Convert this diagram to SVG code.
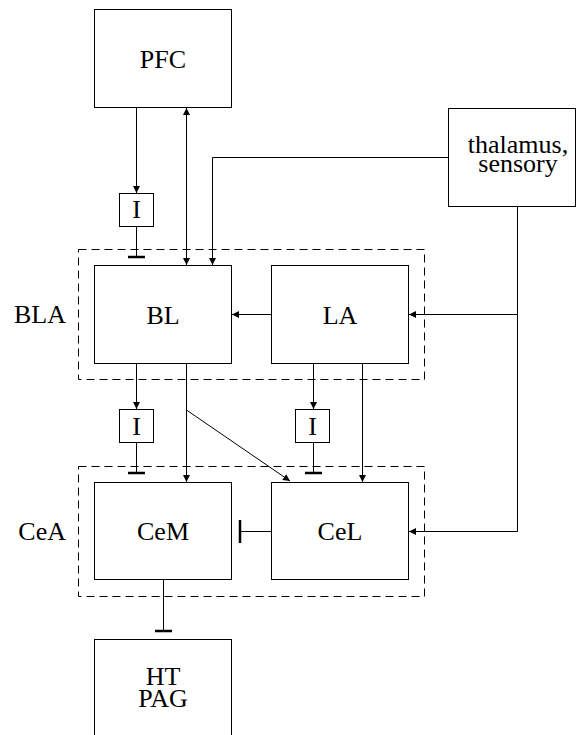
<svg xmlns="http://www.w3.org/2000/svg" width="576" height="735" viewBox="0 0 576 735">
<style>
  .box { fill: #fff; stroke: #000; stroke-width: 1; }
  .grp { fill: none; stroke: #000; stroke-width: 1; stroke-dasharray: 8,5; }
  .lbl { font-family: "Liberation Serif", "Times New Roman", serif; font-size: 26px; fill: #000; text-anchor: middle; }
  .side { font-family: "Liberation Serif", "Times New Roman", serif; font-size: 26px; fill: #000; text-anchor: end; }
  .c { fill: none; stroke: #000; stroke-width: 1; }
  .arr { marker-end: url(#ah); }
  .tbar { stroke: #000; stroke-width: 2.5; fill: none; }
</style>
<defs>
  <marker id="ah" viewBox="0 0 10 10" refX="10" refY="5" markerWidth="8" markerHeight="7" markerUnits="userSpaceOnUse" orient="auto-start-reverse">
    <path d="M0,0 L10,5 L0,10 z" fill="#000"/>
  </marker>
</defs>
<rect width="576" height="735" fill="#fff"/>

<g id="BLA">
  <rect class="grp" x="78.5" y="249.5" width="346" height="130"/>
  <text class="side" x="66" y="323">BLA</text>
</g>
<g id="CeA">
  <rect class="grp" x="78.5" y="466.5" width="346" height="130"/>
  <text class="side" x="66" y="540">CeA</text>
</g>

<g id="connectors">
  <line class="c arr" x1="136.5" y1="108" x2="136.5" y2="193"/>
  <line class="c" x1="136.5" y1="226" x2="136.5" y2="257"/>
  <line class="tbar" x1="128" y1="257" x2="145" y2="257"/>
  <line class="c arr" x1="186.5" y1="108" x2="186.5" y2="265" style="marker-start:url(#ah)"/>
  <polyline class="c arr" points="448,157.5 212.5,157.5 212.5,265"/>
  <polyline class="c" points="517.5,206 517.5,531.5 409,531.5"/>
  <line class="c arr" x1="517.5" y1="314.5" x2="409" y2="314.5"/>
  <line class="c arr" x1="460" y1="531.5" x2="409" y2="531.5"/>
  <line class="c arr" x1="271" y1="314.5" x2="232" y2="314.5"/>
  <line class="c arr" x1="136.5" y1="364" x2="136.5" y2="409"/>
  <line class="c" x1="136.5" y1="442" x2="136.5" y2="473"/>
  <line class="tbar" x1="128" y1="473" x2="145" y2="473"/>
  <line class="c arr" x1="186.5" y1="364" x2="186.5" y2="482"/>
  <line class="c arr" x1="186.5" y1="410" x2="290" y2="481"/>
  <line class="c arr" x1="313.5" y1="364" x2="313.5" y2="409"/>
  <line class="c" x1="313.5" y1="442" x2="313.5" y2="473"/>
  <line class="tbar" x1="305" y1="473" x2="322" y2="473"/>
  <line class="c arr" x1="362.5" y1="364" x2="362.5" y2="482"/>
  <line class="c" x1="271" y1="531.5" x2="240" y2="531.5"/>
  <line class="tbar" x1="240" y1="520" x2="240" y2="543"/>
  <line class="c" x1="163.5" y1="580" x2="163.5" y2="631"/>
  <line class="tbar" x1="155" y1="631" x2="172" y2="631"/>
</g>

<g id="PFC">
  <rect class="box" x="94.5" y="9.5" width="137" height="98"/>
  <text class="lbl" x="163" y="68">PFC</text>
</g>
<g id="thalamus">
  <rect class="box" x="448.5" y="108.5" width="127" height="98"/>
  <text class="lbl" x="518" y="153">thalamus,<tspan x="518" dy="19">sensory</tspan></text>
</g>
<g id="I1">
  <rect class="box" x="119.5" y="193.5" width="34" height="33"/>
  <text class="lbl" x="136.5" y="218">I</text>
</g>
<g id="BL">
  <rect class="box" x="94.5" y="265.5" width="137" height="98"/>
  <text class="lbl" x="163" y="324">BL</text>
</g>
<g id="LA">
  <rect class="box" x="271.5" y="265.5" width="137" height="98"/>
  <text class="lbl" x="340" y="324">LA</text>
</g>
<g id="I2">
  <rect class="box" x="119.5" y="409.5" width="34" height="33"/>
  <text class="lbl" x="136.5" y="435">I</text>
</g>
<g id="I3">
  <rect class="box" x="295.5" y="409.5" width="34" height="33"/>
  <text class="lbl" x="312.5" y="435">I</text>
</g>
<g id="CeM">
  <rect class="box" x="94.5" y="482.5" width="137" height="97"/>
  <text class="lbl" x="163" y="540">CeM</text>
</g>
<g id="CeL">
  <rect class="box" x="271.5" y="482.5" width="137" height="97"/>
  <text class="lbl" x="340" y="540">CeL</text>
</g>
<g id="HT_PAG">
  <rect class="box" x="94.5" y="639.5" width="137" height="110"/>
  <text class="lbl" x="163" y="685">HT<tspan x="163" dy="22">PAG</tspan></text>
</g>
</svg>
